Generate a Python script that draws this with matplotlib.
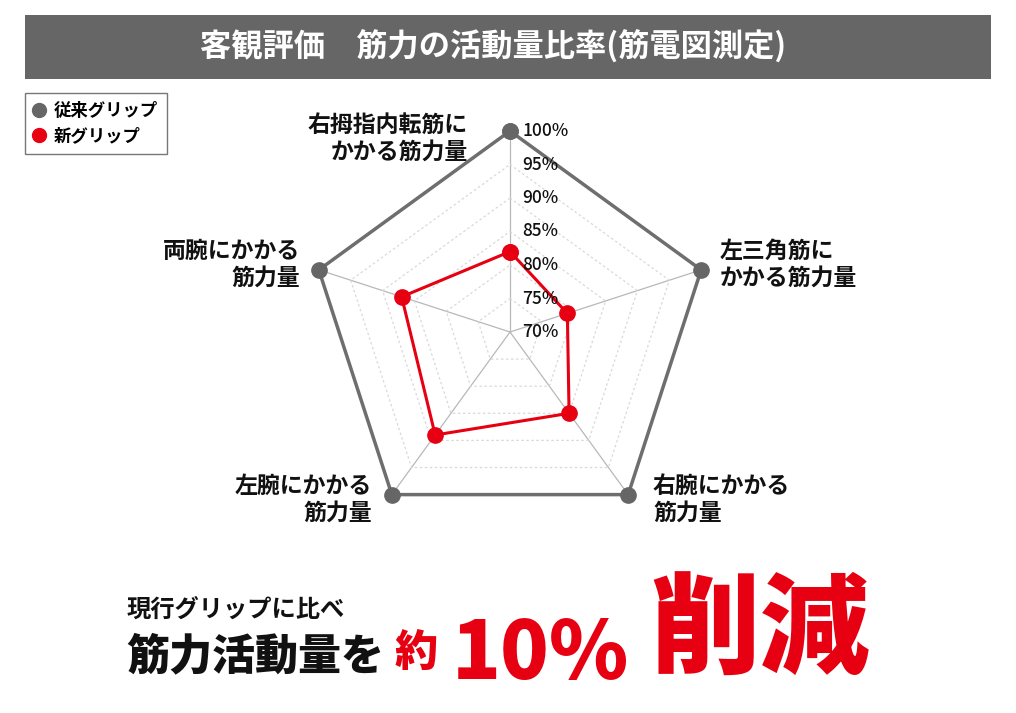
import numpy as np
import matplotlib
matplotlib.use("Agg")
import matplotlib.pyplot as plt
from matplotlib.lines import Line2D
from matplotlib.patches import Rectangle

plt.rcParams['font.family'] = ['Noto Sans CJK JP', 'DejaVu Sans']

# ---- data ----
categories = ["右拇指内転筋に\nかかる筋力量", "左三角筋に\nかかる筋力量", "右腕にかかる\n筋力量",
              "左腕にかかる\n筋力量", "両腕にかかる\n筋力量"]
old_grip = [100, 100, 100, 100, 100]
new_grip = [82, 79, 85, 89, 87]
series_names = ["従来グリップ", "新グリップ"]
r_ticks = [70, 75, 80, 85, 90, 95, 100]
r_tick_labels = ["70%", "75%", "80%", "85%", "90%", "95%", "100%"]
title = "客観評価　筋力の活動量比率(筋電図測定)"

W, H = 1016, 713
fig = plt.figure(figsize=(W / 100, H / 100), dpi=100)
fig.patch.set_facecolor("white")

def fx(px):
    return px / W

def fy(py):
    return 1 - py / H

GREY = "#666666"
RED = "#e60012"

# title bar
fig.patches.append(Rectangle((fx(25), fy(79)), fx(991) - fx(25), fy(15) - fy(79),
                             transform=fig.transFigure, facecolor=GREY, edgecolor="none", zorder=0))
fig.text(fx(493), fy(47), title, color="white", fontsize=22.5, fontweight="bold",
         ha="center", va="center")

# radar axes
cx, cy, R = 510, 332, 201
ax = fig.add_axes([fx(cx - R), fy(cy + R), fx(2 * R), fy(cy - R) - fy(cy + R)], projection="polar")
ax.set_theta_offset(np.pi / 2)
ax.set_theta_direction(-1)
ax.set_ylim(r_ticks[0], r_ticks[-1])
ax.set_frame_on(False)
ax.grid(False)
ax.set_xticks([])
ax.set_yticks([])
ax.patch.set_alpha(0)

n = len(categories)
angles = np.linspace(0, 2 * np.pi, n, endpoint=False)
ang_c = np.concatenate([angles, angles[:1]])

# spokes
for a in angles:
    ax.plot([a, a], [r_ticks[0], r_ticks[-1]], color="#b8b8b8", lw=0.9, zorder=1)
# grid polygons
for rv in r_ticks[1:-1]:
    ax.plot(ang_c, [rv] * (n + 1), color="#d9d9d9", lw=0.9, ls=(0, (2, 2)), zorder=1)

# series
ov = np.array(old_grip + old_grip[:1], dtype=float)
nv = np.array(new_grip + new_grip[:1], dtype=float)
ax.plot(ang_c, ov, color="#6e6e6e", lw=2.5, marker="o", markersize=11,
        markerfacecolor=GREY, markeredgecolor=GREY, zorder=3, clip_on=False)
ax.plot(ang_c, nv, color=RED, lw=2.2, marker="o", markersize=11,
        markerfacecolor=RED, markeredgecolor=RED, zorder=4, clip_on=False)

# radial tick labels
for rv, lab in zip(r_ticks, r_tick_labels):
    ax.annotate(lab, xy=(0, rv), xytext=(9, 0), textcoords="offset points",
                ha="left", va="center", fontsize=12.5, fontweight="medium",
                color="#111111", zorder=5, annotation_clip=False)

# category labels
lab_pos = [
    (468, 139, "right"),
    (720, 265, "left"),
    (653, 500, "left"),
    (372, 500, "right"),
    (300, 265, "right"),
]
for txt, (px, py, ha) in zip(categories, lab_pos):
    fig.text(fx(px), fy(py), txt, fontsize=16.5, fontweight="bold", ha=ha, va="center",
             multialignment=ha, linespacing=1.2, color="#111111")

# legend
handles = [Line2D([], [], ls="none", marker="o", markersize=10, color=GREY),
           Line2D([], [], ls="none", marker="o", markersize=10, color=RED)]
leg = fig.legend(handles, series_names, loc="upper left", bbox_to_anchor=(fx(25), fy(93)),
                 borderaxespad=0, frameon=True, fancybox=False, handlelength=0.6,
                 handletextpad=0.55, prop={"size": 12.5, "weight": "bold"},
                 labelspacing=0.45, borderpad=0.5)
leg.get_frame().set_edgecolor("#555555")
leg.get_frame().set_linewidth(1.0)

# bottom message
fig.text(fx(127), fy(610), "現行グリップに比べ", fontsize=17.5, fontweight="bold",
         ha="left", va="center", color="#111111")
fig.text(fx(126), fy(657), "筋力活動量を", fontsize=31, fontweight="heavy",
         ha="left", va="center", color="#111111")
fig.text(fx(395), fy(653), "約", fontsize=31, fontweight="heavy",
         ha="left", va="center", color=RED)
fig.text(fx(452), fy(655), "10%", fontsize=58, fontweight="heavy",
         ha="left", va="center", color=RED)
fig.text(fx(650), fy(634), "削減", fontsize=79, fontweight="heavy",
         ha="left", va="center", color=RED)

fig.savefig("out.png", dpi=100)
